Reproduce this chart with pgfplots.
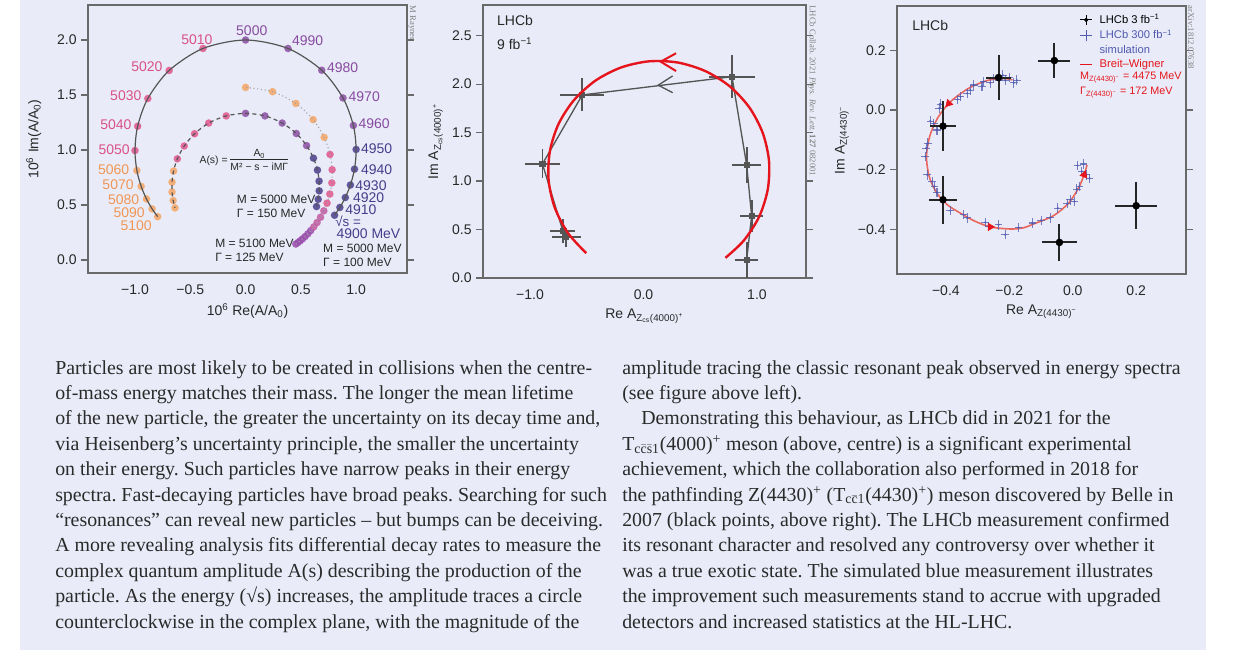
\documentclass[border=0pt]{standalone}
\usepackage{pgfplots}
\pgfplotsset{compat=1.18}
\usepackage{fontspec}
\setmainfont{Liberation Serif}
\newfontfamily\chartfont{Liberation Sans}
\definecolor{bg}{RGB}{233,236,248}
\definecolor{framec}{RGB}{105,105,105}
\definecolor{txt}{RGB}{40,40,40}
\definecolor{body}{RGB}{42,42,42}
\definecolor{cInd}{RGB}{75,62,140}
\definecolor{cPur}{RGB}{140,78,165}
\definecolor{cMag}{RGB}{155,80,175}
\definecolor{cMagB}{RGB}{195,88,160}
\definecolor{cPink}{RGB}{225,85,140}
\definecolor{cOra}{RGB}{245,165,100}
\definecolor{tInd}{RGB}{72,60,140}
\definecolor{tPur}{RGB}{135,75,160}
\definecolor{tPink}{RGB}{218,80,135}
\definecolor{tOra}{RGB}{240,150,85}
\definecolor{lgray}{RGB}{85,85,85}
\definecolor{lhcred}{RGB}{230,20,28}
\definecolor{simblue}{RGB}{80,90,175}
\definecolor{bwred}{RGB}{235,80,70}
\newcommand{\cf}{\chartfont\fontsize{10.5}{12}\selectfont}
\newcommand{\cfm}{\chartfont\fontsize{9}{10.5}\selectfont}
\newcommand{\cfs}{\chartfont\fontsize{7.8}{9}\selectfont}
\newcommand{\cfl}{\chartfont\fontsize{8.4}{10}\selectfont}
\newcommand{\bt}{\fontsize{14.9}{18}\selectfont\frenchspacing\color{body}}
\pgfplotsset{
 panel/.style={
  scale only axis, anchor=south west, clip mode=individual,
  axis line style={framec, line width=1.1pt},
  tick label style={font=\cf, text=txt},
  label style={font=\cf, text=txt},
  xtick style={draw=none},
  ytick style={framec, line width=1pt},
  tick align=outside, major tick length=5pt,
 },
 pts/.style={scatter, only marks, point meta=explicit symbolic, mark=*, mark size=2.7pt,
  scatter/classes={
   i={fill=cInd, draw=cInd},
   p={fill=cPur, draw=cPur},
   m={fill=cMag, draw=cMag},
   n={fill=cMagB, draw=cMagB},
   k={fill=cPink, draw=cPink},
   o={fill=cOra, draw=cOra}},
  mark options={fill opacity=0.85, draw opacity=0.4}},
}
\begin{document}
\begin{tikzpicture}
\useasboundingbox (0,0) rectangle (924.75pt,-487.5pt);
\fill[white] (0,0) rectangle (924.75pt,-487.5pt);
\fill[bg] (15pt,0) rectangle (904.5pt,-487.5pt);

% ---------------- left panel ----------------
\begin{axis}[panel, at={(66pt,-204.75pt)}, width=239.25pt, height=201pt,
  xmin=-1.425, xmax=1.46, ymin=-0.118, ymax=2.318,
  xtick={-1,-0.5,0,0.5,1}, xticklabels={−1.0,−0.5,0.0,0.5,1.0},
  ytick={0,0.5,1,1.5,2}, yticklabels={0.0,0.5,1.0,1.5,2.0},
  xlabel={10\textsuperscript{6} Re(A/A\textsubscript{0})},
  ylabel={10\textsuperscript{6} Im(A/A\textsubscript{0})},
  ylabel style={yshift=5pt}]
% M=5000, Gamma=100
\addplot[pts] table[meta=c] {
x y c
0.805 0.407 i
0.853 0.478 i
0.902 0.568 i
0.948 0.682 i
0.985 0.826 i
1.000 1.005 i
0.975 1.223 p
0.881 1.473 p
0.689 1.725 p
0.384 1.923 p
0.000 2.000 p
-0.385 1.923 k
-0.691 1.723 k
-0.884 1.468 k
-0.976 1.216 k
-1.000 0.995 k
-0.983 0.814 o
-0.944 0.669 o
-0.896 0.555 o
-0.845 0.465 o
-0.795 0.394 o
};
% M=5000, Gamma=150
\addplot[pts] table[meta=c] {
x y c
0.642 0.486 i
0.657 0.552 i
0.666 0.629 i
0.665 0.717 i
0.650 0.817 i
0.614 0.926 i
0.552 1.040 p
0.459 1.150 p
0.331 1.245 p
0.175 1.310 p
0.000 1.333 p
-0.175 1.310 k
-0.333 1.245 k
-0.461 1.148 k
-0.555 1.036 k
-0.617 0.920 k
-0.651 0.809 o
-0.665 0.708 o
-0.665 0.618 o
-0.655 0.541 o
-0.638 0.474 o
};
% M=5100, Gamma=125
\addplot[pts] table[meta=c] {
x y c
0.454 0.145 m
0.473 0.158 m
0.493 0.174 m
0.515 0.192 m
0.538 0.213 m
0.563 0.238 m
0.589 0.267 m
0.617 0.301 n
0.647 0.341 n
0.678 0.389 n
0.708 0.447 n
0.737 0.517 k
0.762 0.600 k
0.780 0.701 k
0.783 0.821 k
0.764 0.960 k
0.711 1.115 o
0.611 1.276 o
0.455 1.423 o
0.244 1.530 o
0.000 1.569 o
};
\addplot[lgray, line width=0.9pt, smooth, no marks] coordinates {
(0.805,0.407) (0.853,0.478) (0.902,0.568) (0.948,0.682) (0.985,0.826) (1.000,1.005)
(0.975,1.223) (0.881,1.473) (0.689,1.725) (0.384,1.923) (0.000,2.000) (-0.385,1.923)
(-0.691,1.723) (-0.884,1.468) (-0.976,1.216) (-1.000,0.995) (-0.983,0.814) (-0.944,0.669)
(-0.896,0.555) (-0.845,0.465) (-0.795,0.394)};
\addplot[lgray, line width=0.9pt, smooth, no marks, dash pattern=on 3pt off 2.5pt] coordinates {
(0.642,0.486) (0.657,0.552) (0.666,0.629) (0.665,0.717) (0.650,0.817) (0.614,0.926)
(0.552,1.040) (0.459,1.150) (0.331,1.245) (0.175,1.310) (0.000,1.333) (-0.175,1.310)
(-0.333,1.245) (-0.461,1.148) (-0.555,1.036) (-0.617,0.920) (-0.651,0.809) (-0.665,0.708)
(-0.665,0.618) (-0.655,0.541) (-0.638,0.474)};
\addplot[gray!75, line width=0.8pt, smooth, no marks, dotted] coordinates {
(0.454,0.145) (0.473,0.158) (0.493,0.174) (0.515,0.192) (0.538,0.213) (0.563,0.238)
(0.589,0.267) (0.617,0.301) (0.647,0.341) (0.678,0.389) (0.708,0.447) (0.737,0.517)
(0.762,0.600) (0.780,0.701) (0.783,0.821) (0.764,0.960) (0.711,1.115) (0.611,1.276)
(0.455,1.423) (0.244,1.530) (0.000,1.569)};
% energy labels
\begin{scope}[every node/.style={font=\cf, inner sep=0pt}]
\node[anchor=west, text=tInd] at (axis cs:1.042,1.01) {4950};
\node[anchor=west, text=tInd] at (axis cs:1.042,0.825) {4940};
\node[anchor=west, text=tInd] at (axis cs:0.991,0.678) {4930};
\node[anchor=west, text=tInd] at (axis cs:0.970,0.568) {4920};
\node[anchor=west, text=tInd] at (axis cs:0.900,0.458) {4910};
\node[anchor=west, text=tInd, font=\chartfont\fontsize{10}{11}\selectfont] at (axis cs:0.810,0.352) {√s =};
\node[anchor=west, text=tInd] at (axis cs:0.820,0.240) {4900 MeV};
\node[anchor=west, text=tPur] at (axis cs:1.020,1.236) {4960};
\node[anchor=west, text=tPur] at (axis cs:0.930,1.485) {4970};
\node[anchor=west, text=tPur] at (axis cs:0.735,1.75) {4980};
\node[anchor=west, text=tPur] at (axis cs:0.418,1.99) {4990};
\node[anchor=center, text=tPur] at (axis cs:0.056,2.085) {5000};
\node[anchor=east, text=tPink] at (axis cs:-0.297,2.006) {5010};
\node[anchor=east, text=tPink] at (axis cs:-0.749,1.757) {5020};
\node[anchor=east, text=tPink] at (axis cs:-0.940,1.494) {5030};
\node[anchor=east, text=tPink] at (axis cs:-1.030,1.227) {5040};
\node[anchor=east, text=tPink] at (axis cs:-1.045,1.006) {5050};
\node[anchor=east, text=tOra] at (axis cs:-1.050,0.818) {5060};
\node[anchor=east, text=tOra] at (axis cs:-1.010,0.688) {5070};
\node[anchor=east, text=tOra] at (axis cs:-0.960,0.552) {5080};
\node[anchor=east, text=tOra] at (axis cs:-0.910,0.434) {5090};
\node[anchor=east, text=tOra] at (axis cs:-0.846,0.310) {5100};
\end{scope}
\node[font=\cfs, text=txt, anchor=center] at (axis cs:-0.015,0.9)
  {A(s) = \begin{tabular}{@{}c@{}}A\textsubscript{0}\\[-1pt]\hline\rule{0pt}{8pt}M² − s − iMΓ\end{tabular}};
\node[font=\cfm, text=txt, anchor=west, align=left, inner sep=0pt] at (axis cs:-0.08,0.485) {M = 5000 MeV\\Γ = 150 MeV};
\node[font=\cfm, text=txt, anchor=west, align=left, inner sep=0pt] at (axis cs:-0.276,0.085) {M = 5100 MeV\\Γ = 125 MeV};
\node[font=\cfm, text=txt, anchor=west, align=left, inner sep=0pt] at (axis cs:0.70,0.04) {M = 5000 MeV\\Γ = 100 MeV};
\end{axis}

% ---------------- middle panel ----------------
\begin{axis}[panel, at={(362.25pt,-208.5pt)}, width=242.25pt, height=204.75pt,
  xmin=-1.414, xmax=1.432, ymin=0, ymax=2.817,
  xtick={-1,0,1}, xticklabels={−1.0,0.0,1.0},
  ytick={0,0.5,1,1.5,2,2.5}, yticklabels={0.0,0.5,1.0,1.5,2.0,2.5},
  xlabel={Re A\textsubscript{Z\textsubscript{cs}(4000)\textsuperscript{+}}},
  ylabel={Im A\textsubscript{Z\textsubscript{cs}(4000)\textsuperscript{+}}}]
\addplot[lgray, line width=1pt, mark=square*, mark size=1.8pt,
  error bars/.cd, x dir=both, x explicit, y dir=both, y explicit, error mark=none,
  error bar style={line width=1.3pt, lgray}]
 table[x=x, y=y, x error=ex, y error=ey] {
x y ex ey
0.909 0.186 0.10 0.19
0.953 0.640 0.10 0.17
0.909 1.166 0.13 0.19
0.780 2.077 0.205 0.22
-0.539 1.889 0.195 0.17
-0.890 1.177 0.155 0.15
-0.710 0.485 0.11 0.12
-0.680 0.420 0.13 0.10
};
\addplot[lgray, line width=1pt, no marks] coordinates {(0.257,2.085) (0.13,1.99) (0.257,1.912)};
\addplot[lhcred, line width=1.8pt, smooth, no marks] coordinates {
(0.722,0.208) (0.882,0.384) (1.019,0.632) (1.095,0.914) (1.106,1.209) (1.051,1.496)
(0.934,1.758) (0.762,1.976) (0.547,2.134) (0.304,2.223) (0.050,2.236) (-0.198,2.172)
(-0.424,2.036) (-0.612,1.836) (-0.749,1.588) (-0.825,1.306) (-0.836,1.011) (-0.781,0.724)
(-0.664,0.462) (-0.505,0.257)};
\addplot[lhcred, line width=1.5pt, no marks] coordinates {(0.287,2.319) (0.152,2.232) (0.287,2.136)};
\node[font=\cf, text=txt, anchor=west, inner sep=0pt] at (rel axis cs:0.043,0.945) {LHCb};
\node[font=\cf, text=txt, anchor=west, inner sep=0pt] at (rel axis cs:0.043,0.857) {9 fb\textsuperscript{−1}};
\end{axis}

% ---------------- right panel ----------------
\begin{axis}[panel, at={(672.75pt,-205.5pt)}, width=216.75pt, height=201pt,
  xmin=-0.554, xmax=0.357, ymin=-0.55, ymax=0.349,
  xtick={-0.4,-0.2,0,0.2}, xticklabels={−0.4,−0.2,0.0,0.2},
  ytick={-0.4,-0.2,0,0.2}, yticklabels={−0.4,−0.2,0.0,0.2},
  xlabel={Re A\textsubscript{Z(4430)\textsuperscript{−}}},
  ylabel={Im A\textsubscript{Z(4430)\textsuperscript{−}}},
  legend style={draw=none, fill=none, at={(rel axis cs:0.63,0.975)}, anchor=north west,
    font=\cfl, row sep=1.2pt, inner sep=0pt, nodes={inner sep=1pt},
    /tikz/every odd column/.append style={column sep=4pt}},
  legend cell align=left]
\addplot[bwred, line width=1.2pt, smooth, no marks, opacity=0.85, forget plot] coordinates {
(-0.190,0.101) (-0.22,0.106) (-0.27,0.099) (-0.323,0.076) (-0.36,0.050) (-0.391,0.022)
(-0.425,-0.025) (-0.450,-0.085) (-0.461,-0.156) (-0.452,-0.225) (-0.428,-0.279)
(-0.395,-0.318) (-0.354,-0.346) (-0.310,-0.372) (-0.260,-0.392) (-0.197,-0.399)
(-0.155,-0.395) (-0.123,-0.382) (-0.060,-0.354) (-0.013,-0.312) (0.018,-0.262)
(0.036,-0.217) (0.045,-0.184)};
\addplot[simblue, only marks, mark=*, mark size=0.6pt, opacity=0.75, forget plot,
  error bars/.cd, x dir=both, x fixed=0.012, y dir=both, y fixed=0.016, error mark=none,
  error bar style={simblue, line width=0.8pt}]
 table {
x y
-0.176 0.100
-0.186 0.091
-0.199 0.109
-0.213 0.100
-0.220 0.117
-0.234 0.100
-0.249 0.106
-0.260 0.091
-0.281 0.095
-0.286 0.080
-0.312 0.084
-0.323 0.067
-0.333 0.056
-0.354 0.045
-0.363 0.036
-0.417 0.020
-0.421 0.006
-0.438 -0.045
-0.449 -0.037
-0.428 -0.067
-0.457 -0.111
-0.462 -0.128
-0.465 -0.156
-0.459 -0.217
-0.443 -0.240
-0.436 -0.256
-0.428 -0.277
-0.386 -0.337
-0.344 -0.351
-0.333 -0.362
-0.276 -0.377
-0.265 -0.390
-0.234 -0.385
-0.213 -0.418
-0.171 -0.394
-0.127 -0.379
-0.100 -0.370
-0.071 -0.362
-0.047 -0.329
-0.018 -0.314
-0.008 -0.301
0.005 -0.307
0.013 -0.265
0.021 -0.256
0.015 -0.186
0.034 -0.181
0.043 -0.217
0.053 -0.229
0.029 -0.206
};
\addplot[lhcred, only marks, mark=triangle*, mark size=3.2pt, mark options={rotate=137}, forget plot] coordinates {(-0.391,0.022)};
\addplot[lhcred, only marks, mark=triangle*, mark size=3.2pt, mark options={rotate=-90}, forget plot] coordinates {(-0.260,-0.392)};
\addplot[lhcred, only marks, mark=triangle*, mark size=3.2pt, mark options={rotate=-20}, forget plot] coordinates {(0.036,-0.217)};
\addplot[black, only marks, mark=*, mark size=2.6pt, forget plot,
  error bars/.cd, x dir=both, x explicit, y dir=both, y explicit, error mark=none,
  error bar style={line width=1.5pt, black!85}]
 table[x=x, y=y, x error=ex, y error=ey] {
x y ex ey
-0.058 0.166 0.050 0.058
-0.234 0.109 0.038 0.075
-0.409 -0.054 0.040 0.085
-0.409 -0.301 0.045 0.080
-0.042 -0.444 0.054 0.063
0.200 -0.321 0.066 0.078
};
\addlegendimage{legend image code/.code={\draw[black, line width=0.9pt] (0pt,0pt) -- (9pt,0pt) (4.5pt,-4pt) -- (4.5pt,4pt); \fill[black] (4.5pt,0pt) circle (1.4pt);}}
\addlegendentry{LHCb 3 fb\textsuperscript{−1}}
\addlegendimage{legend image code/.code={\draw[simblue, line width=0.9pt] (0pt,0pt) -- (9pt,0pt) (4.5pt,-4pt) -- (4.5pt,4pt);}}
\addlegendentry{\textcolor{simblue}{LHCb 300 fb\textsuperscript{−1}}}
\addlegendimage{empty legend}
\addlegendentry{\textcolor{simblue}{simulation}}
\addlegendimage{legend image code/.code={\draw[lhcred, line width=1.2pt] (0pt,0pt) -- (9pt,0pt);}}
\addlegendentry{\textcolor{lhcred}{Breit–Wigner}}
\node[font=\chartfont\fontsize{8.1}{10}\selectfont, text=lhcred, anchor=west, inner sep=0pt] at (rel axis cs:0.633,0.732) {M\textsubscript{Z(4430)\textsuperscript{−}} = 4475 MeV};
\node[font=\chartfont\fontsize{8.1}{10}\selectfont, text=lhcred, anchor=west, inner sep=0pt] at (rel axis cs:0.633,0.677) {Γ\textsubscript{Z(4430)\textsuperscript{−}} = 172 MeV};
\node[font=\cf, text=txt, anchor=west, inner sep=0pt] at (rel axis cs:0.052,0.928) {LHCb};
\end{axis}

% credits
\node[rotate=-90, anchor=west, font=\fontsize{6.5}{7}\selectfont, text=gray, inner sep=0pt] at (309pt,-4pt) {M Rayner};
\node[rotate=-90, anchor=west, font=\fontsize{6.5}{7}\selectfont, text=gray, inner sep=0pt] at (609pt,-4pt) {LHCb Collab. 2021 \textit{Phys. Rev. Lett.} \textbf{127} 082001};
\node[rotate=-90, anchor=west, font=\fontsize{6.5}{7}\selectfont, text=gray, inner sep=0pt] at (893.25pt,-4pt) {arXiv:1812.07638};

% body text
\begin{scope}[every node/.style={anchor=base west, inner sep=0pt, font=\bt}]
\node at (41.25pt,-280.5pt) {Particles are most likely to be created in collisions when the centre-};
\node at (41.25pt,-299.55pt) {of-mass energy matches their mass. The longer the mean lifetime};
\node at (41.25pt,-318.6pt) {of the new particle, the greater the uncertainty on its decay time and,};
\node at (41.25pt,-337.65pt) {via Heisenberg’s uncertainty principle, the smaller the uncertainty};
\node at (41.25pt,-356.7pt) {on their energy. Such particles have narrow peaks in their energy};
\node at (41.25pt,-375.75pt) {spectra. Fast-decaying particles have broad peaks. Searching for such};
\node at (41.25pt,-394.8pt) {“resonances” can reveal new particles – but bumps can be deceiving.};
\node at (41.25pt,-413.85pt) {A more revealing analysis fits differential decay rates to measure the};
\node at (41.25pt,-432.9pt) {complex quantum amplitude A(s) describing the production of the};
\node at (41.25pt,-451.95pt) {particle. As the energy (√s) increases, the amplitude traces a circle};
\node at (41.25pt,-471.0pt) {counterclockwise in the complex plane, with the magnitude of the};
\node at (466.5pt,-280.5pt) {amplitude tracing the classic resonant peak observed in energy spectra};
\node at (466.5pt,-299.55pt) {(see figure above left).};
\node at (480.75pt,-318.6pt) {Demonstrating this behaviour, as LHCb did in 2021 for the};
\node at (466.5pt,-337.65pt) {T\textsubscript{c$\bar{\mathrm{c}}\bar{\mathrm{s}}$1}(4000)\textsuperscript{+} meson (above, centre) is a significant experimental};
\node at (466.5pt,-356.7pt) {achievement, which the collaboration also performed in 2018 for};
\node at (466.5pt,-375.75pt) {the pathfinding Z(4430)\textsuperscript{+} (T\textsubscript{c$\bar{\mathrm{c}}$1}(4430)\textsuperscript{+}) meson discovered by Belle in};
\node at (466.5pt,-394.8pt) {2007 (black points, above right). The LHCb measurement confirmed};
\node at (466.5pt,-413.85pt) {its resonant character and resolved any controversy over whether it};
\node at (466.5pt,-432.9pt) {was a true exotic state. The simulated blue measurement illustrates};
\node at (466.5pt,-451.95pt) {the improvement such measurements stand to accrue with upgraded};
\node at (466.5pt,-471.0pt) {detectors and increased statistics at the HL-LHC.};
\end{scope}
\end{tikzpicture}
\end{document}
